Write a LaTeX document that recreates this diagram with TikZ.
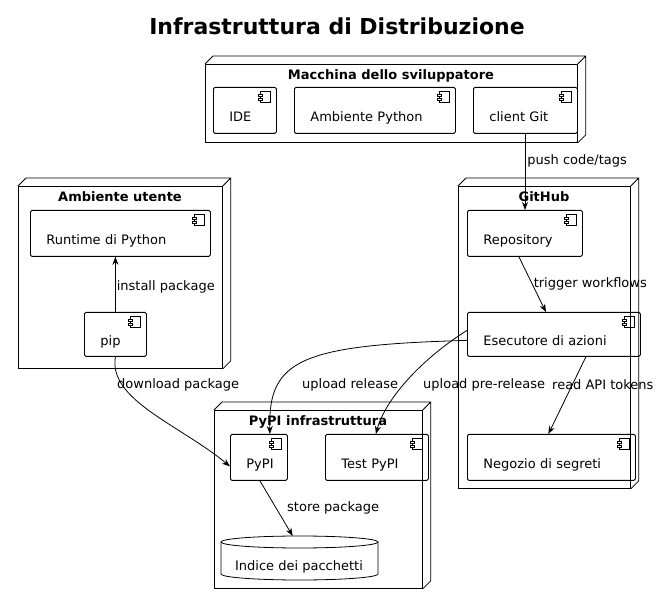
\documentclass[tikz,border=0pt]{standalone}
\usepackage{fontspec}
\setmainfont{DejaVu Sans}
\usetikzlibrary{arrows.meta}
\newcommand{\ct}[1]{\raisebox{-11.5pt}[0pt][0pt]{#1}}
\begin{document}
\begin{tikzpicture}[x=1pt,y=-1pt,
  font=\fontsize{13}{15}\selectfont,
  box/.style={draw,line width=0.8pt,anchor=north west,inner sep=0,minimum width=#1},
  comp/.style={draw,line width=0.8pt,rounded corners=1.5pt,anchor=north west,minimum height=46pt,
    text width=#1-32pt,align=left,inner xsep=16pt,
    path picture={\begin{scope}[sharp corners]
      \draw[line width=0.6pt] ([xshift=-16pt,yshift=-4pt]path picture bounding box.north east) rectangle ++(10pt,-11pt);
      \draw[line width=0.6pt,fill=white] ([xshift=-18pt,yshift=-6.5pt]path picture bounding box.north east) rectangle ++(4pt,-2pt);
      \draw[line width=0.6pt,fill=white] ([xshift=-18pt,yshift=-10.5pt]path picture bounding box.north east) rectangle ++(4pt,-2pt);
      \end{scope}}},
  ttl/.style={font=\fontsize{13}{15}\selectfont\bfseries,anchor=north,inner sep=1pt},
  arr/.style={-{Stealth[length=8pt,width=6pt]},line width=0.8pt},
  lbl/.style={anchor=west,inner sep=1pt}]
\useasboundingbox (0,0) rectangle (665,604);
\newcommand{\threed}[1]{\draw[line width=0.8pt] (#1.north west) -- ++(8,-8) -| ([xshift=8pt,yshift=8pt]#1.south east) -- (#1.south east) (#1.north east) -- ++(8,-8);}
\node[font=\fontsize{22}{26}\selectfont\bfseries] (title) at (337,26) {Infrastruttura di Distribuzione};
% containers
\node[box=372pt,minimum height=78pt] (mac) at (205,64) {}; \threed{mac}
\node[ttl] (macl) at (391,68) {Macchina dello sviluppatore};
\node[box=204pt,minimum height=182pt] (ute) at (18,186) {}; \threed{ute}
\node[ttl] (utel) at (120,190) {Ambiente utente};
\node[box=172pt,minimum height=302pt] (gh) at (458,186) {}; \threed{gh}
\node[ttl] (ghl) at (544,190) {GitHub};
\node[box=208pt,minimum height=178pt] (pypiinf) at (214,410) {}; \threed{pypiinf}
\node[ttl] (pypil) at (318,414) {PyPI infrastruttura};
% components
\node[comp=63pt] (ide) at (213,87) {\ct{IDE}};
\node[comp=161pt] (amb) at (294,87) {\ct{Ambiente Python}};
\node[comp=104pt] (git) at (473,87) {\ct{client Git}};
\node[comp=180pt] (rt) at (30,210) {\ct{Runtime di Python}};
\node[comp=62pt,minimum height=44pt] (pip) at (84,312) {\ct{pip}};
\node[comp=115pt] (repo) at (467,210) {\ct{Repository}};
\node[comp=173pt,minimum height=44pt] (ese) at (467,312) {\ct{Esecutore di azioni}};
\node[comp=168pt] (neg) at (467,434) {\ct{Negozio di segreti}};
\node[comp=57pt] (pypi) at (230,434) {\ct{PyPI}};
\node[comp=103pt] (test) at (325,434) {\ct{Test PyPI}};
% database
\draw[line width=0.8pt] (221,542) arc[start angle=180,end angle=360,x radius=78.5,y radius=6] -- (378,574) arc[start angle=0,end angle=180,x radius=78.5,y radius=6] -- cycle;
\draw[line width=0.8pt] (221,542) arc[start angle=180,end angle=0,x radius=78.5,y radius=6];
\node[anchor=north west,minimum width=157pt,minimum height=44pt,inner sep=0] (idx) at (221,536) {};
\node (idxl) at (299,567) {Indice dei pacchetti};
% connectors
\draw[arr] (git.south -| 525,0) -- (repo.north -| 525,0) node[lbl,pos=0.35,xshift=1pt] {push code/tags};
\draw[arr] ([xshift=-6pt]repo.south) -- ([xshift=-8pt]ese.north) node[lbl,pos=0.5] {trigger workflows};
\draw[arr] (pip.north) -- (pip.north |- rt.south) node[lbl,pos=0.45] {install package};
\draw[arr] (pip.south) .. controls (108,400) and (180,425) .. ([yshift=-9pt]pypi.west) ;
\node[lbl] (l1) at (116,385) {download package};
\draw[arr] ([yshift=-6pt]ese.west) .. controls (300,345) and (268,360) .. ([xshift=11pt]pypi.north);
\node[lbl] (l2) at (301,385) {upload release};
\draw[arr] ([yshift=4pt]ese.west) .. controls (420,360) and (385,400) .. ([xshift=-1pt]test.north);
\node[lbl] (l3) at (422,385) {upload pre-release};
\draw[arr] ([xshift=32pt]ese.south) -- ([xshift=-3pt]neg.north);
\node[lbl] (l4) at (551,385) {read API tokens};
\draw[arr] ([xshift=1pt]pypi.south) -- ([xshift=-7pt]idx.north);
\node[lbl] (l5) at (286,508) {store package};
\end{tikzpicture}
\end{document}
